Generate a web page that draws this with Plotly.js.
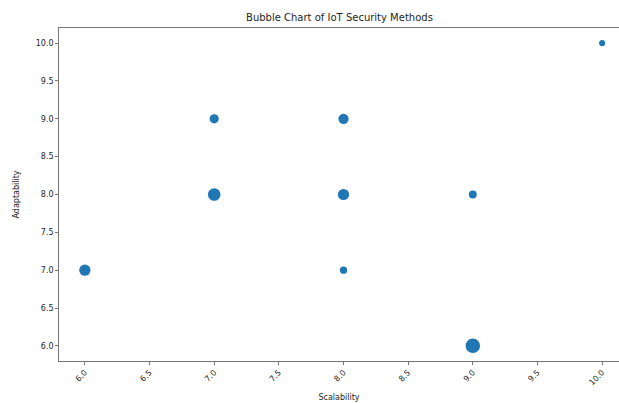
<!DOCTYPE html>
<html>
<head>
<meta charset="utf-8">
<script src="https://cdn.plot.ly/plotly-3.0.1.min.js"></script>
<style>html,body{margin:0;padding:0;background:#fff;}#chart{width:619px;height:403px;}</style>
</head>
<body>
<div id="chart"></div>
<script>
const scalability = [6, 7, 7, 8, 8, 8, 9, 9, 10];
const adaptability = [7, 9, 8, 9, 8, 7, 8, 6, 10];
const impact = [120, 80, 150, 100, 120, 50, 60, 200, 35];
const tickVals = [6.0, 6.5, 7.0, 7.5, 8.0, 8.5, 9.0, 9.5, 10.0];
const tickText = tickVals.map(v => v.toFixed(1));

const trace = {
  x: scalability,
  y: adaptability,
  mode: 'markers',
  type: 'scatter',
  marker: {
    size: impact,
    sizemode: 'area',
    sizeref: 1.9,
    color: '#1f77b4',
    opacity: 1,
    line: {width: 0}
  },
  hoverinfo: 'x+y'
};

const font = {family: 'DejaVu Sans, sans-serif', size: 8, color: '#262626'};

const layout = {
  width: 619,
  height: 403,
  margin: {l: 59, r: 0, t: 28, b: 42},
  paper_bgcolor: '#fff',
  plot_bgcolor: '#fff',
  showlegend: false,
  font: font,
  title: {
    text: 'Bubble Chart of IoT Security Methods',
    font: {family: 'DejaVu Sans, sans-serif', size: 10, color: '#262626'},
    x: 310 / 619, xref: 'paper', xanchor: 'center',
    y: 1 - 17 / 403, yanchor: 'middle'
  },
  xaxis: {
    range: [5.8, 10.2 - 9 / 129.25],
    tickvals: tickVals,
    ticktext: tickText,
    tickangle: -45,
    ticks: 'outside', ticklen: 3, tickwidth: 0.8, tickcolor: '#555',
    showline: true, linecolor: '#555', linewidth: 0.8, mirror: true,
    showgrid: false, zeroline: false,
    tickfont: font,
    title: {text: 'Scalability', font: font, standoff: 8}
  },
  yaxis: {
    range: [5.8, 10.2],
    tickvals: tickVals,
    ticktext: tickText,
    ticks: 'outside', ticklen: 3, tickwidth: 0.8, tickcolor: '#555',
    showline: true, linecolor: '#555', linewidth: 0.8,
    showgrid: false, zeroline: false,
    tickfont: font,
    title: {text: 'Adaptability', font: font, standoff: 14}
  }
};

Plotly.newPlot('chart', [trace], layout, {displayModeBar: false, staticPlot: true});
</script>
</body>
</html>
